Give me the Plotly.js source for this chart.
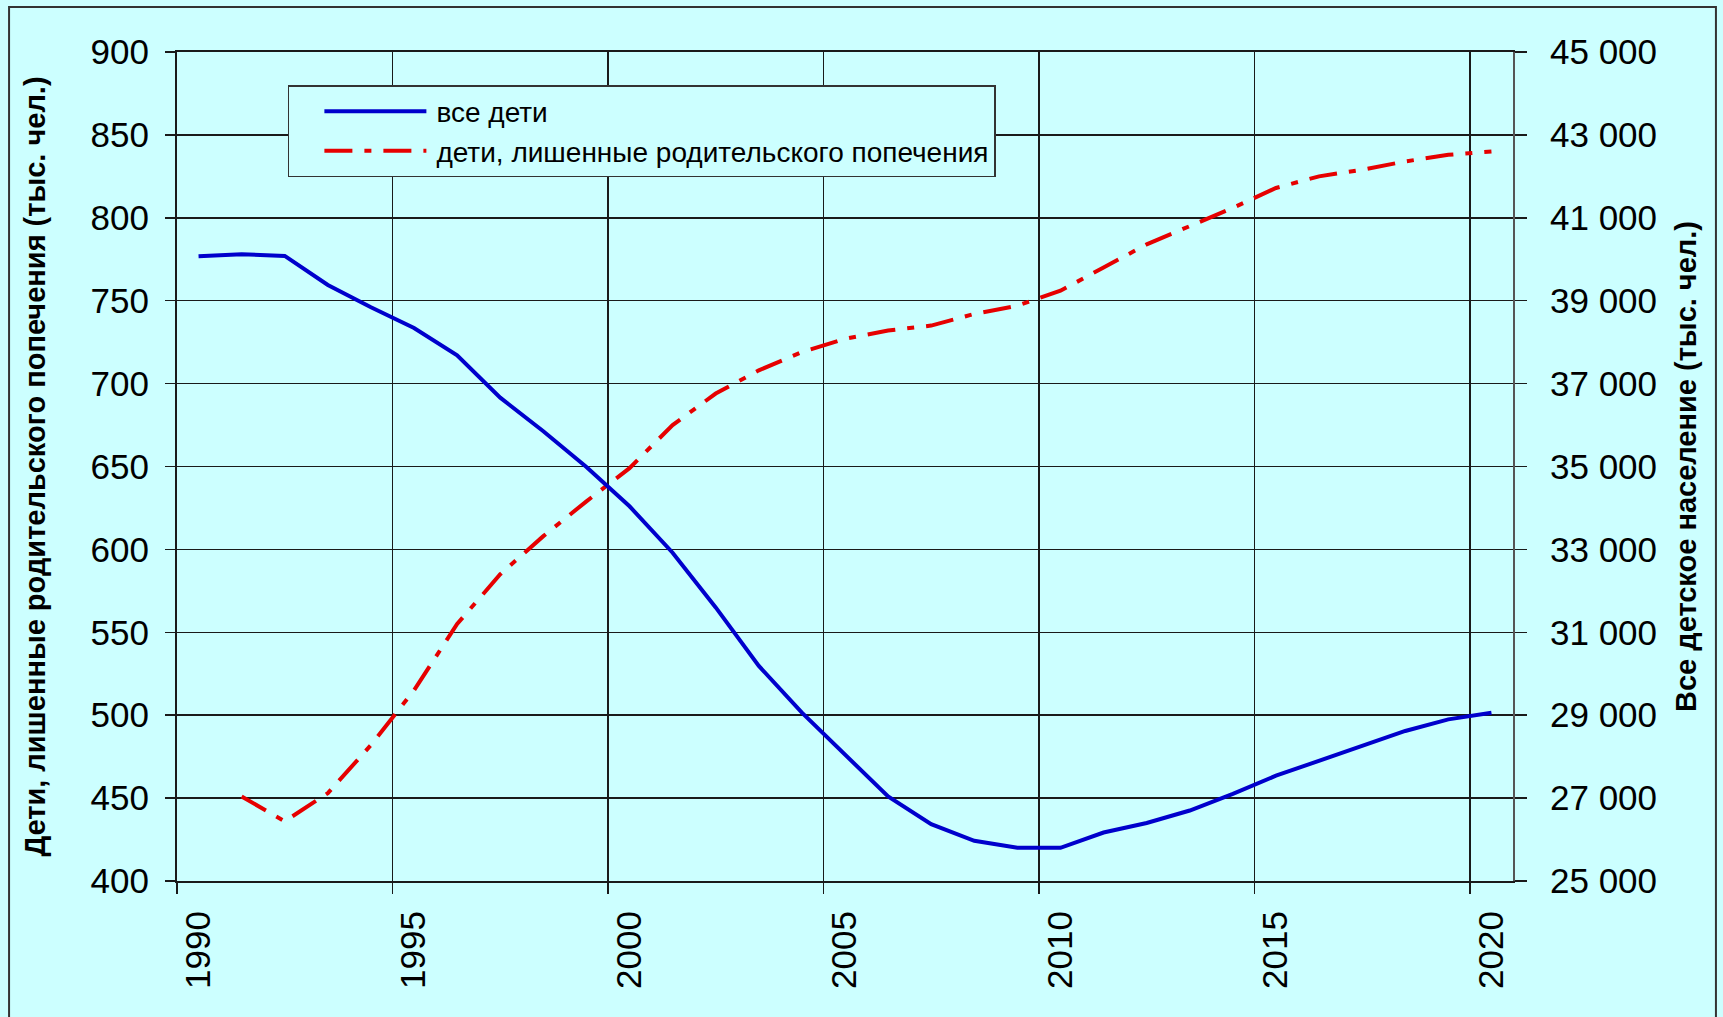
<!DOCTYPE html>
<html>
<head>
<meta charset="utf-8">
<script src="https://cdn.plot.ly/plotly-3.0.1.min.js"></script>
<style>
html,body{margin:0;padding:0;background:#CCFFFF;}
#chart{width:1723px;height:1017px;}
</style>
</head>
<body>
<div id="chart"></div>
<script>
// Categories (years)
const years = [1990,1991,1992,1993,1994,1995,1996,1997,1998,1999,2000,2001,2002,2003,2004,2005,2006,2007,2008,2009,2010,2011,2012,2013,2014,2015,2016,2017,2018,2019,2020];
// Все детское население (тыс. чел.) — right axis
const allChildren = [40070,40120,40080,39380,38840,38340,37680,36660,35850,34990,34040,32920,31600,30190,29060,28060,27040,26370,25970,25800,25800,26170,26400,26700,27100,27540,27900,28260,28620,28900,29060];
// Дети, лишенные родительского попечения (тыс. чел.) — left axis, 1991–2020
const orphanYears = [1991,1992,1993,1994,1995,1996,1997,1998,1999,2000,2001,2002,2003,2004,2005,2006,2007,2008,2009,2010,2011,2012,2013,2014,2015,2016,2017,2018,2019,2020];
const orphans = [451,436,453,482,515,555,585,608,629,649,675,694,708,719,727,732,735,742,747,756,770,784,795,806,818,825,829,834,838,840];
// Tick labels
const labelYears = [1990,1995,2000,2005,2010,2015,2020];
const labelText = ['1990','1995','2000','2005','2010','2015','2020'];
const boundaryYears = [1989.5,1994.5,1999.5,2004.5,2009.5,2014.5,2019.5];

const seriesNames = ['все дети','дети, лишенные родительского попечения'];
const leftTitle = 'Дети, лишенные родительского попечения (тыс. чел.)';
const rightTitle = 'Все детское население (тыс. чел.)';

const BG = '#CCFFFF';
const GRID = '#1a1a1a';
const FONT = 'Liberation Sans, Arial, sans-serif';

const traces = [
  {
    x: years, y: allChildren, name: seriesNames[0], type: 'scatter', mode: 'lines',
    xaxis: 'x2', yaxis: 'y2',
    line: {color: '#0000CC', width: 4}
  },
  {
    x: orphanYears, y: orphans, name: seriesNames[1], type: 'scatter', mode: 'lines',
    xaxis: 'x', yaxis: 'y',
    line: {color: '#E60000', width: 4, dash: '28px,12px,7px,12px'}
  }
];

const xr = [1989.5, 2020.5];

const layout = {
  width: 1723, height: 1017,
  paper_bgcolor: BG, plot_bgcolor: BG,
  margin: {l: 177, r: 210, t: 52, b: 136, autoexpand: false},
  separators: ', ',
  font: {family: FONT, color: '#000'},
  showlegend: true,
  legend: {
    x: 0.083, y: 0.96, xanchor: 'left', yanchor: 'top',
    bgcolor: BG, bordercolor: '#333', borderwidth: 1.5,
    font: {family: FONT, size: 28, color: '#000'},
    itemwidth: 137,
    entrywidth: 590,
    traceorder: 'normal',
    tracegroupgap: 0
  },
  xaxis: {
    range: xr, tickmode: 'array', tickvals: labelYears, ticktext: labelText,
    tickangle: -90, showgrid: false, zeroline: false,
    ticks: 'outside', ticklen: 14, tickcolor: 'rgba(0,0,0,0)',
    tickfont: {family: FONT, size: 35, color: '#000'},
    showline: true, linecolor: GRID, linewidth: 2, mirror: true
  },
  xaxis2: {
    range: xr, overlaying: 'x', anchor: 'y2', side: 'bottom',
    tickmode: 'array', tickvals: boundaryYears, showticklabels: false,
    showgrid: true, gridcolor: GRID, gridwidth: 1.5, zeroline: false,
    ticks: 'outside', ticklen: 12, tickwidth: 1.5, tickcolor: GRID,
    showline: false
  },
  yaxis: {
    range: [400, 900], tickmode: 'linear', tick0: 400, dtick: 50,
    showgrid: true, gridcolor: GRID, gridwidth: 1.5, zeroline: false,
    ticks: 'outside', ticklen: 10, tickwidth: 1.5, tickcolor: GRID,
    ticklabelstandoff: 9,
    tickfont: {family: FONT, size: 35, color: '#000'},
    showline: true, linecolor: GRID, linewidth: 2,
    title: {text: leftTitle, font: {family: FONT, size: 29, weight: 'bold', color: '#000'}, standoff: 36}
  },
  yaxis2: {
    range: [25000, 45000], overlaying: 'y', side: 'right', anchor: 'x2',
    tickmode: 'linear', tick0: 25000, dtick: 2000, tickformat: ',d',
    showgrid: false, zeroline: false,
    ticks: 'outside', ticklen: 12, tickwidth: 1.5, tickcolor: GRID,
    ticklabelstandoff: 16,
    tickfont: {family: FONT, size: 35, color: '#000'},
    showline: true, linecolor: '#555', linewidth: 2,
    title: {text: rightTitle, font: {family: FONT, size: 29, weight: 'bold', color: '#000'}, standoff: 20}
  },
  shapes: [
    {type: 'rect', xref: 'paper', yref: 'paper',
     x0: -0.1257, x1: 1.1519, y0: -0.18, y1: 1.0542,
     line: {color: '#333', width: 2}, fillcolor: 'rgba(0,0,0,0)', layer: 'below'}
  ]
};

Plotly.newPlot('chart', traces, layout, {displayModeBar: false, staticPlot: true}).then(function(gd){
  // lengthen legend line samples to match the reference
  gd.querySelectorAll('.legend .legendlines path').forEach(function(p){
    p.setAttribute('d', 'M35,0h102');
  });
});
</script>
</body>
</html>
